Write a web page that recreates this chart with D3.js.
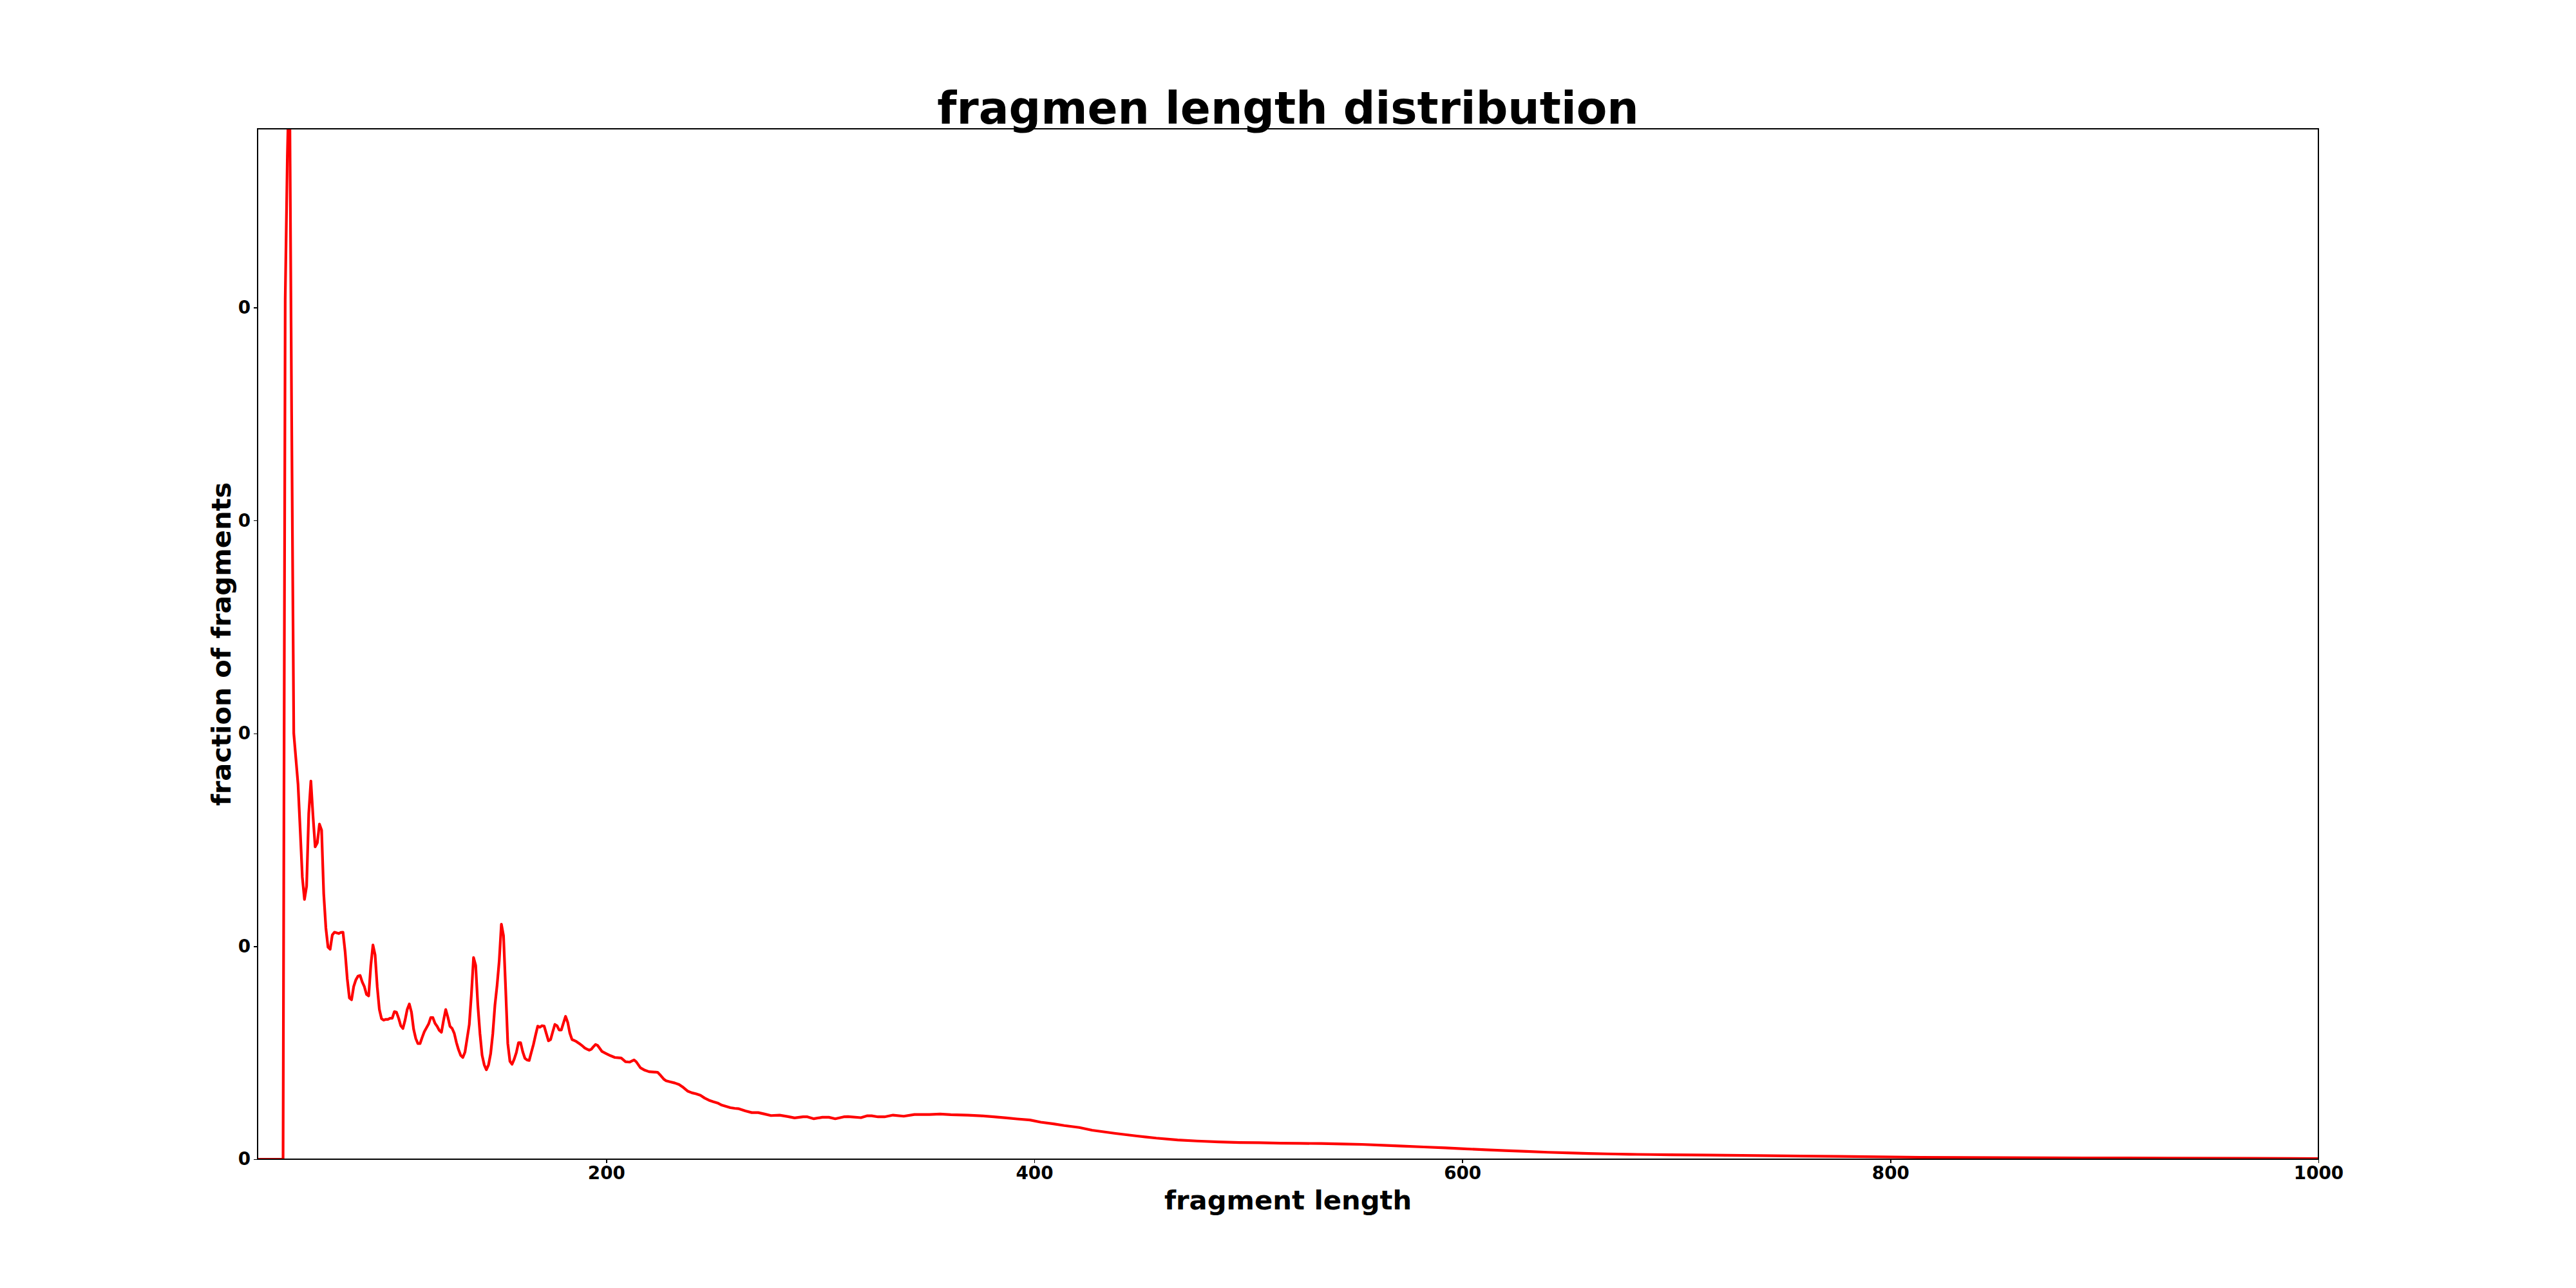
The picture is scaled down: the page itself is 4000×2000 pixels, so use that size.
<!DOCTYPE html>
<html>
<head>
<meta charset="utf-8">
<script src="https://cdn.jsdelivr.net/npm/d3@7"></script>
<style>
  body { margin: 0; background: #fff; }
  text { font-family: "DejaVu Sans", sans-serif; font-weight: bold; fill: #000; }
  .axis text { font-size: 27.8px; }
  .axis line { stroke: #000; stroke-width: 1.4; shape-rendering: crispEdges; }
  .axis path.domain { display: none; }
</style>
</head>
<body>
<script>
// fragment length (x) and fraction of fragments (y)
var lengths = [
  37, 49, 50, 51, 52, 53, 54, 55, 56, 57, 58, 59, 60, 61, 62, 63, 64, 65, 66, 67, 68, 69,
  70, 71, 72, 73, 74, 75, 76, 77, 78, 79, 80, 81, 82, 83, 84, 85, 86, 87, 88, 89,
  90, 91, 92, 93, 94, 95, 96, 97, 98, 99, 100, 101, 102, 103, 104, 105, 106, 107, 108, 109,
  110, 111, 112, 113, 114, 115, 116, 117, 118, 119, 120, 121, 122, 123, 124, 125, 126, 127, 128, 129,
  130, 131, 132, 133, 134, 135, 136, 137, 138, 139, 140, 141, 142, 143, 144, 145, 146, 147, 148, 149,
  150, 151, 152, 153, 154, 155, 156, 157, 158, 159, 160, 161, 162, 163, 164, 165, 166, 167, 168, 169,
  170, 171, 172, 173, 174, 175, 176, 177, 178, 179, 180, 181, 182, 183, 184, 185, 186, 187, 188, 189,
  190, 191, 192, 193, 194, 195, 196, 197, 198, 199, 200, 202, 204, 207, 209, 211, 213, 214, 216, 218,
  220, 224, 225, 227, 228, 230, 232, 234, 236, 238, 240, 242, 244, 246, 248, 250, 252, 254, 256, 258,
  260, 262, 265, 268, 271, 274, 277, 281, 285, 288, 292, 294, 297, 301, 304, 307, 311, 313, 319, 322,
  324, 327, 330, 334, 339, 344, 351, 356, 361, 369, 375, 381, 387, 392, 398, 403, 409, 414, 421, 427,
  438, 448, 457, 467, 476, 486, 496, 505, 515, 524, 534, 544, 553, 563, 572, 582, 592, 601, 611, 620,
  630, 640, 649, 659, 668, 678, 688, 697, 707, 716, 738, 776, 814, 853, 891, 930, 968, 1000
];

var fractions = [
  0, 0, 0.00808, 0.00942, 0.0103, 0.0070, 0.0040, 0.00376, 0.00352, 0.003094, 0.00265, 0.00244, 0.002566, 0.003248, 0.003552, 0.00322, 0.002934, 0.002972, 0.003148, 0.003092, 0.002492, 0.002172,
  0.001992, 0.001972, 0.002106, 0.002132, 0.002126, 0.00212, 0.00213, 0.002132, 0.001948, 0.001694, 0.001514, 0.001498, 0.001622, 0.001684, 0.00172, 0.001726, 0.001664, 0.00162, 0.001548, 0.001534,
  0.00182, 0.002012, 0.00192, 0.00162, 0.001406, 0.00132, 0.001306, 0.001314, 0.001314, 0.001324, 0.001324, 0.001386, 0.00138, 0.001324, 0.001254, 0.001228, 0.001306, 0.001406, 0.001458, 0.00138,
  0.001222, 0.001134, 0.001086, 0.001086, 0.001144, 0.001198, 0.001234, 0.00127, 0.00133, 0.00133, 0.001276, 0.001248, 0.00121, 0.001192, 0.001306, 0.001406, 0.001334, 0.001248, 0.001228, 0.001182,
  0.001096, 0.001028, 0.000976, 0.000956, 0.001006, 0.001134, 0.001264, 0.001548, 0.001894, 0.00182, 0.001448, 0.00118, 0.000976, 0.000886, 0.00084, 0.000886, 0.000992, 0.00118, 0.001448, 0.001634,
  0.001864, 0.002208, 0.0021, 0.0016, 0.001088, 0.00092, 0.000892, 0.00094, 0.001002, 0.001094, 0.001094, 0.001008, 0.000948, 0.000932, 0.000928, 0.001004, 0.001078, 0.001168, 0.00125, 0.00124,
  0.001254, 0.00125, 0.00118, 0.001112, 0.001124, 0.001196, 0.001266, 0.001254, 0.001214, 0.001214, 0.001278, 0.001342, 0.001286, 0.001184, 0.001124, 0.001116, 0.001106, 0.001092, 0.001078, 0.001062,
  0.001044, 0.001034, 0.001024, 0.001032, 0.001056, 0.001078, 0.001068, 0.00104, 0.001012, 0.001002, 0.000992, 0.000972, 0.000956, 0.00095, 0.000916, 0.000912, 0.000932, 0.000916, 0.000858, 0.000836,
  0.000822, 0.000816, 0.000796, 0.00075, 0.000736, 0.000726, 0.000716, 0.000702, 0.000674, 0.00064, 0.000624, 0.000614, 0.0006, 0.000574, 0.000554, 0.00054, 0.000528, 0.000508, 0.000496, 0.000484,
  0.000478, 0.000474, 0.000454, 0.000438, 0.000438, 0.000424, 0.00041, 0.000414, 0.0004, 0.000388, 0.000398, 0.000398, 0.00038, 0.000394, 0.000394, 0.00038, 0.000398, 0.0004, 0.00039, 0.000408,
  0.000408, 0.000398, 0.000398, 0.000414, 0.000404, 0.00042, 0.00042, 0.000424, 0.000418, 0.000414, 0.000408, 0.000398, 0.000388, 0.000378, 0.000368, 0.000348, 0.000332, 0.000316, 0.000298, 0.000272,
  0.000242, 0.000218, 0.000198, 0.000181, 0.000171, 0.000163, 0.000157, 0.000155, 0.000151, 0.000149, 0.000147, 0.000143, 0.000139, 0.000131, 0.000123, 0.000115, 0.000107, 0.000097, 0.000089, 0.000081,
  0.000073, 0.000065, 0.00006, 0.000054, 0.00005, 0.000046, 0.000044, 0.000042, 0.00004, 0.000038, 0.000034, 0.000026, 0.000018, 0.000014, 0.000012, 0.00001, 0.000008, 0.000006
];

var xTicks = [200, 400, 600, 800, 1000];
var yTicks = [0, 0.002, 0.004, 0.006, 0.008];
var xExtent = [37.1, 1000];
var yExtent = [0, 0.009679];

var dim = {
    width: 4000, height: 2000,
    margin: { top: 200, right: 400, bottom: 200, left: 400 }
};
dim.plot = {
    width: dim.width - dim.margin.left - dim.margin.right,
    height: dim.height - dim.margin.top - dim.margin.bottom
};

var data = lengths.map(function(d, i) { return { length: d, fraction: fractions[i] }; });

var x = d3.scaleLinear().domain(xExtent).range([0, dim.plot.width]);
var y = d3.scaleLinear().domain(yExtent).range([dim.plot.height, 0]);

var xAxis = d3.axisBottom(x)
        .tickValues(xTicks)
        .tickSize(6)
        .tickPadding(5)
        .tickFormat(d3.format("d"));

// the source formats the tiny fractions as integers, so every label reads 0
var yAxis = d3.axisLeft(y)
        .tickValues(yTicks)
        .tickSize(6)
        .tickPadding(5)
        .tickFormat(function(d) { return String(Math.round(d)); });

var line = d3.line()
        .x(function(d) { return x(d.length); })
        .y(function(d) { return y(d.fraction); });

var svg = d3.select("body").append("svg")
        .attr("width", dim.width)
        .attr("height", dim.height);

svg.append("defs").append("clipPath")
        .attr("id", "plotClip")
        .append("rect")
        .attr("width", dim.plot.width)
        .attr("height", dim.plot.height);

svg.append("text")
        .attr("x", dim.width / 2)
        .attr("y", 192)
        .attr("text-anchor", "middle")
        .style("font-size", "69.4px")
        .text("fragmen length distribution");

var g = svg.append("g")
        .attr("transform", "translate(" + dim.margin.left + "," + dim.margin.top + ")");

g.append("path")
        .datum(data)
        .attr("clip-path", "url(#plotClip)")
        .attr("fill", "none")
        .attr("stroke", "#ff0000")
        .attr("stroke-width", 4.2)
        .attr("stroke-linejoin", "round")
        .attr("d", line);

g.append("rect")
        .attr("width", dim.plot.width)
        .attr("height", dim.plot.height)
        .attr("fill", "none")
        .attr("stroke", "#000")
        .attr("stroke-width", 1.4)
        .attr("shape-rendering", "crispEdges");

g.append("g")
        .attr("class", "x axis")
        .attr("transform", "translate(0," + dim.plot.height + ")")
        .call(xAxis);

g.append("g")
        .attr("class", "y axis")
        .call(yAxis);

g.append("text")
        .attr("x", dim.plot.width / 2)
        .attr("y", 1878 - dim.margin.top)
        .attr("text-anchor", "middle")
        .style("font-size", "41.7px")
        .text("fragment length");

g.append("text")
        .attr("transform", "translate(" + (358 - dim.margin.left) + "," + (dim.plot.height / 2) + ") rotate(-90)")
        .attr("text-anchor", "middle")
        .style("font-size", "41.7px")
        .text("fraction of fragments");
</script>
</body>
</html>
